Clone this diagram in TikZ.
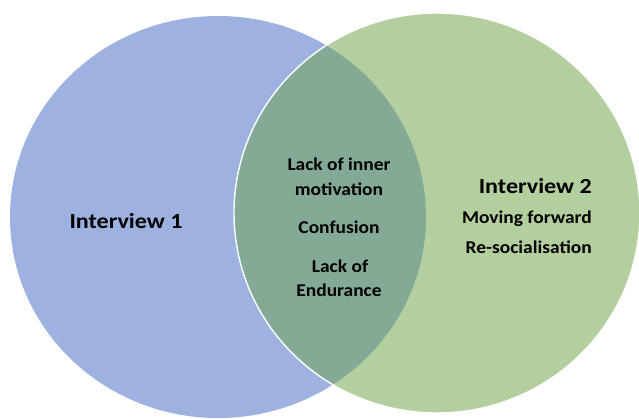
\documentclass[tikz,border=0pt]{standalone}
\usepackage{fontspec}
\setmainfont{Carlito}
\definecolor{blueA}{HTML}{9DB2E0}
\definecolor{greenB}{HTML}{B3CFA0}
\definecolor{overlapC}{HTML}{84A994}
\begin{document}
\begin{tikzpicture}[x=1pt,y=-1pt,
  lbl/.style={font=\bfseries\fontsize{18}{21}\selectfont, text=black, inner sep=0pt, xscale=1.08},
  big/.style={font=\bfseries\fontsize{21.5}{25}\selectfont, text=black, inner sep=0pt, xscale=1.12}]
\useasboundingbox (0,0) rectangle (639,419);
\fill[white] (0,0) rectangle (639,419);
\begin{scope}
\clip (0,0) rectangle (639,419);
\fill[blueA] (218,217) ellipse [x radius=208, y radius=201];
\fill[greenB] (437,213) ellipse [x radius=203, y radius=200];
\begin{scope}
\clip (218,217) ellipse [x radius=208, y radius=201];
\fill[overlapC] (437,213) ellipse [x radius=203, y radius=200];
\end{scope}
\draw[white, line width=1.4pt] (437,213) ellipse [x radius=203, y radius=200];
\end{scope}
\node[big] (i1) at (126,221) {Interview 1};
\node[lbl] (m1) at (339,164) {Lack of inner};
\node[lbl] (m2) at (339,189) {motivation};
\node[lbl] (m3) at (339,227) {Confusion};
\node[lbl] (m4) at (340,266) {Lack of};
\node[lbl] (m5) at (339,290) {Endurance};
\node[big, anchor=east] (i2) at (592,186) {Interview 2};
\node[lbl, anchor=east] (r1) at (592,219) {Moving forward};
\node[lbl, anchor=east] (r2) at (592,247) {Re-socialisation};
\end{tikzpicture}
\end{document}
